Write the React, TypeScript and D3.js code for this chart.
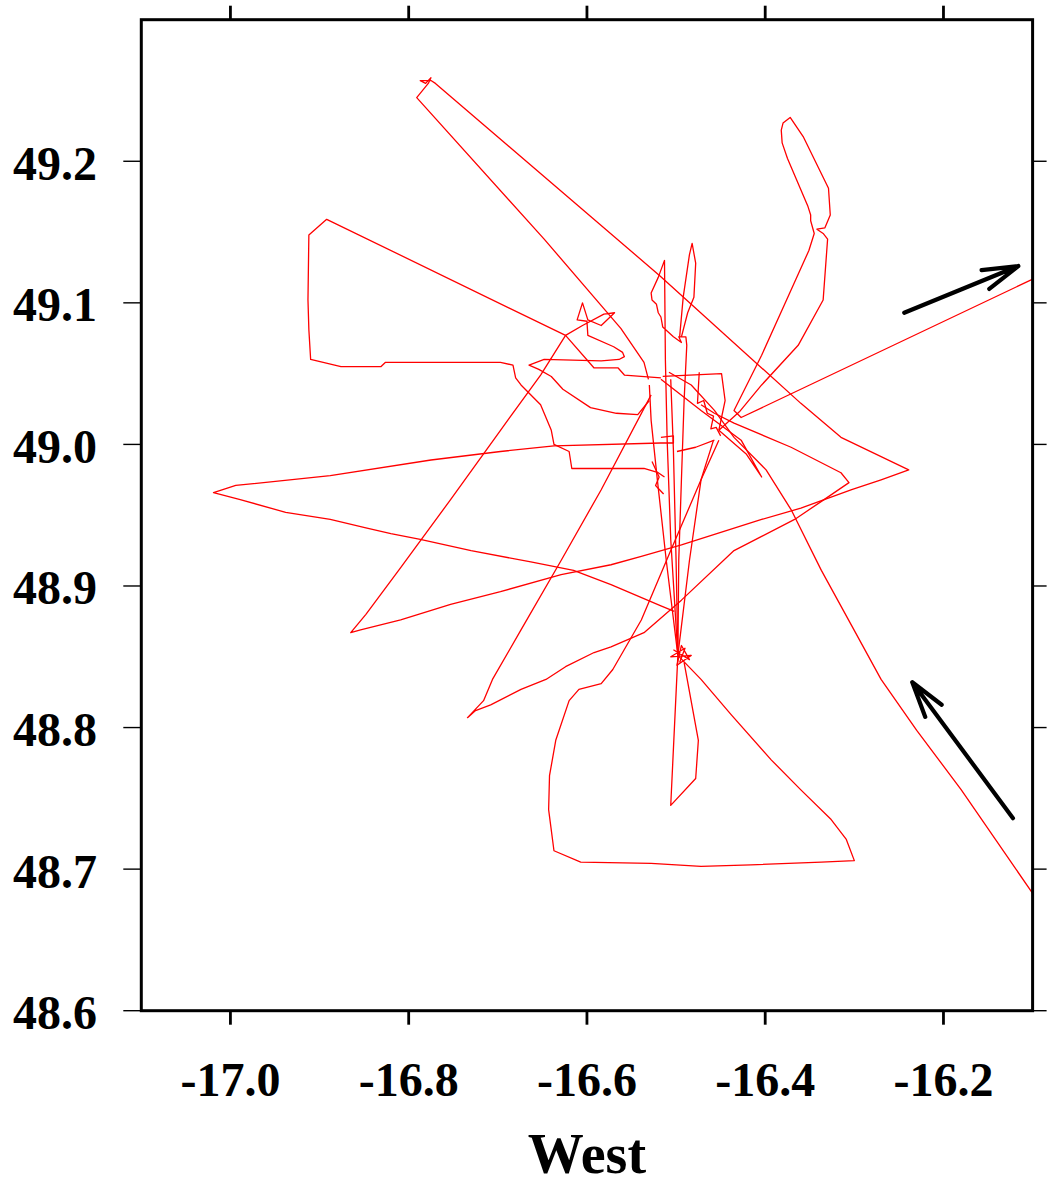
import React from "react";
import * as d3 from "d3";

type P = [number, number];

const xTicks = [-17.0, -16.8, -16.6, -16.4, -16.2];
const yTicks = [48.6, 48.7, 48.8, 48.9, 49.0, 49.1, 49.2];
const xLabel = "West";

const trackEastLoop: P[] = [
  [-16.099, 49.117], [-16.427, 49.019], [-16.435, 49.024], [-16.404, 49.063], [-16.371, 49.109],
  [-16.351, 49.137], [-16.345, 49.149], [-16.349, 49.158], [-16.349, 49.162], [-16.352, 49.168],
  [-16.375, 49.202], [-16.381, 49.213], [-16.382, 49.222], [-16.380, 49.227], [-16.372, 49.231],
  [-16.357, 49.217], [-16.329, 49.181], [-16.327, 49.162], [-16.333, 49.153], [-16.342, 49.152],
  [-16.335, 49.149], [-16.330, 49.145], [-16.335, 49.102], [-16.363, 49.070], [-16.404, 49.042],
  [-16.429, 49.023], [-16.452, 49.010],
];

const trackWedge: P[] = [
  [-16.531, 49.046], [-16.536, 49.058], [-16.562, 49.082], [-16.648, 49.145], [-16.791, 49.245],
  [-16.778, 49.255], [-16.775, 49.259], [-16.781, 49.255], [-16.787, 49.257], [-16.775, 49.257],
  [-16.770, 49.255], [-16.518, 49.119], [-16.360, 49.029], [-16.315, 49.005], [-16.239, 48.982],
  [-16.270, 48.975], [-16.303, 48.968], [-16.360, 48.955], [-16.404, 48.947], [-16.449, 48.938],
  [-16.494, 48.929], [-16.539, 48.921], [-16.573, 48.915], [-16.629, 48.908], [-16.697, 48.896],
  [-16.753, 48.887], [-16.809, 48.876], [-16.854, 48.869], [-16.865, 48.867], [-16.848, 48.880],
  [-16.809, 48.913], [-16.753, 48.961], [-16.697, 49.010], [-16.652, 49.049], [-16.624, 49.077],
  [-16.605, 49.084], [-16.581, 49.092], [-16.569, 49.093], [-16.584, 49.084], [-16.599, 49.088],
  [-16.605, 49.100], [-16.611, 49.088], [-16.600, 49.087], [-16.599, 49.077], [-16.570, 49.069],
  [-16.560, 49.065], [-16.558, 49.062], [-16.564, 49.060], [-16.584, 49.059], [-16.648, 49.060],
  [-16.665, 49.056], [-16.654, 49.053], [-16.640, 49.048], [-16.627, 49.039], [-16.596, 49.026],
  [-16.567, 49.022], [-16.543, 49.021], [-16.530, 49.031],
];

const trackBox: P[] = [
  [-16.517, 49.047], [-16.558, 49.049], [-16.565, 49.054], [-16.592, 49.054], [-16.624, 49.077],
  [-16.892, 49.159], [-16.912, 49.148], [-16.913, 49.102], [-16.912, 49.081], [-16.910, 49.060],
  [-16.876, 49.055], [-16.831, 49.055], [-16.826, 49.058], [-16.697, 49.058], [-16.683, 49.056],
  [-16.680, 49.047], [-16.674, 49.042], [-16.652, 49.028], [-16.640, 49.010], [-16.637, 49.000],
  [-16.620, 48.995], [-16.617, 48.983], [-16.536, 48.983], [-16.520, 48.980], [-16.513, 48.977],
];

const trackWest: P[] = [
  [-16.517, 49.005], [-16.503, 49.006], [-16.503, 49.001], [-16.517, 49.001], [-16.637, 48.999],
  [-16.697, 48.995], [-16.775, 48.989], [-16.888, 48.978], [-16.994, 48.971], [-17.019, 48.966],
  [-16.989, 48.961], [-16.938, 48.952], [-16.888, 48.947], [-16.848, 48.941], [-16.820, 48.937],
  [-16.787, 48.933], [-16.730, 48.925], [-16.663, 48.917], [-16.615, 48.911], [-16.573, 48.901],
  [-16.517, 48.886], [-16.502, 48.882],
];

const trackSouthWest: P[] = [
  [-16.528, 49.035], [-16.584, 48.968], [-16.629, 48.918], [-16.674, 48.869], [-16.706, 48.834],
  [-16.716, 48.819], [-16.734, 48.807], [-16.725, 48.812], [-16.708, 48.816], [-16.674, 48.827],
  [-16.646, 48.834], [-16.624, 48.843], [-16.592, 48.853], [-16.573, 48.857], [-16.536, 48.867],
  [-16.494, 48.890], [-16.435, 48.925], [-16.404, 48.935], [-16.367, 48.947], [-16.334, 48.961],
  [-16.306, 48.973], [-16.315, 48.980], [-16.371, 48.998], [-16.435, 49.015], [-16.457, 49.022],
  [-16.472, 49.028],
];

const trackSouthLoop: P[] = [
  [-16.498, 48.851], [-16.472, 48.834], [-16.438, 48.809], [-16.393, 48.777], [-16.360, 48.756],
  [-16.326, 48.735], [-16.309, 48.721], [-16.300, 48.706], [-16.337, 48.705], [-16.416, 48.703],
  [-16.472, 48.702], [-16.528, 48.704], [-16.607, 48.705], [-16.637, 48.713], [-16.643, 48.742],
  [-16.642, 48.766], [-16.635, 48.791], [-16.620, 48.819], [-16.609, 48.827], [-16.584, 48.831],
  [-16.571, 48.841], [-16.539, 48.876], [-16.506, 48.925], [-16.472, 48.975], [-16.452, 49.003],
];

const trackSouthSpike: P[] = [
  [-16.491, 48.846], [-16.475, 48.791], [-16.478, 48.764], [-16.506, 48.745], [-16.498, 48.851],
];

const trackSouthEast: P[] = [
  [-16.099, 48.682], [-16.180, 48.756], [-16.230, 48.798], [-16.270, 48.834], [-16.303, 48.872],
  [-16.337, 48.911], [-16.371, 48.954], [-16.399, 48.982], [-16.435, 49.005], [-16.457, 49.024],
  [-16.483, 49.042], [-16.508, 49.051],
];

const trackTip: P[] = [
  [-16.517, 49.046], [-16.472, 49.024], [-16.427, 49.003], [-16.404, 48.977], [-16.421, 48.993],
  [-16.452, 49.010],
];

const trackCentre1: P[] = [
  [-16.498, 48.851], [-16.511, 48.918], [-16.521, 48.975], [-16.528, 49.017], [-16.530, 49.042],
];

const trackCentre2: P[] = [
  [-16.498, 48.851], [-16.506, 48.933], [-16.510, 49.003], [-16.512, 49.060], [-16.513, 49.130],
  [-16.520, 49.118], [-16.528, 49.107], [-16.527, 49.102], [-16.522, 49.099], [-16.520, 49.093],
  [-16.517, 49.090], [-16.515, 49.083], [-16.503, 49.076], [-16.494, 49.072], [-16.497, 49.076],
  [-16.489, 49.076], [-16.488, 49.070], [-16.491, 49.031], [-16.494, 48.975], [-16.497, 48.918],
  [-16.498, 48.851],
];

const trackCentre3: P[] = [
  [-16.496, 49.076], [-16.492, 49.104], [-16.485, 49.134], [-16.482, 49.142], [-16.478, 49.128],
  [-16.480, 49.104], [-16.487, 49.093], [-16.494, 49.076],
];

const trackCentre4: P[] = [
  [-16.498, 48.851], [-16.500, 48.918], [-16.503, 48.996], [-16.506, 49.046],
];

const trackCentre5: P[] = [
  [-16.498, 48.851], [-16.485, 48.918], [-16.472, 48.975], [-16.458, 49.003],
];

const trackStar: P[] = [
  [-16.503, 48.855], [-16.485, 48.848], [-16.494, 48.858], [-16.499, 48.844], [-16.483, 48.851],
  [-16.506, 48.850], [-16.490, 48.856], [-16.496, 48.846],
];

const trackCentre6: P[] = [
  [-16.515, 49.048], [-16.449, 49.050], [-16.445, 49.031], [-16.452, 49.010],
];

const trackCentre7: P[] = [
  [-16.499, 48.995], [-16.478, 48.998], [-16.457, 49.003],
];

const trackCentre8: P[] = [
  [-16.474, 49.051], [-16.476, 49.029], [-16.469, 49.031], [-16.465, 49.022], [-16.458, 49.020],
  [-16.461, 49.011], [-16.455, 49.012], [-16.450, 49.006],
];

const trackCentre9: P[] = [
  [-16.527, 48.988], [-16.519, 48.977], [-16.523, 48.971], [-16.514, 48.965],
];

const tracks: P[][] = [
  trackEastLoop, trackWedge, trackBox, trackWest, trackSouthWest, trackSouthLoop,
  trackSouthSpike, trackSouthEast, trackTip, trackCentre1, trackCentre2, trackCentre3,
  trackCentre4, trackCentre5, trackStar, trackCentre6, trackCentre7, trackCentre8, trackCentre9,
];

// arrows: [tail, tip]
const arrowNE: P[] = [[-16.244, 49.093], [-16.116, 49.126]];
const arrowNW: P[] = [[-16.122, 48.736], [-16.235, 48.832]];
const arrows = [arrowNE, arrowNW];

const W = 1047;
const H = 1186;
const L = 141.3, R = 1032.6, T = 19.7, B = 1010.7;
const FONT = "'Liberation Serif', 'Times New Roman', Times, serif";

export default function App() {
  const x = d3.scaleLinear().domain([-17.1, -16.1]).range([L, R]);
  const y = d3.scaleLinear().domain([48.6, 49.3]).range([B, T]);
  const line = d3.line<P>().x((d) => x(d[0])).y((d) => y(d[1]));

  const arrowPaths = arrows.map((a) => {
    const [t0, t1] = a;
    const x0 = x(t0[0]), y0 = y(t0[1]), x1 = x(t1[0]), y1 = y(t1[1]);
    const ang = Math.atan2(y0 - y1, x0 - x1);
    const len = 37, half = (16 * Math.PI) / 180;
    const b1 = [x1 + len * Math.cos(ang + half), y1 + len * Math.sin(ang + half)];
    const b2 = [x1 + len * Math.cos(ang - half), y1 + len * Math.sin(ang - half)];
    return `M${x0},${y0}L${x1},${y1}M${b1[0]},${b1[1]}L${x1},${y1}L${b2[0]},${b2[1]}`;
  });

  return (
    <svg
      width={W}
      height={H}
      style={{ position: "absolute", left: 0, top: 0, background: "#fff" }}
    >
      <defs>
        <clipPath id="plotClip">
          <rect x={L} y={T} width={R - L} height={B - T} />
        </clipPath>
      </defs>
      <rect x={0} y={0} width={W} height={H} fill="#fff" />
      <g clipPath="url(#plotClip)">
        {tracks.map((t, i) => (
          <path key={i} d={line(t) || ""} fill="none" stroke="#ff0000" strokeWidth={1.3} strokeLinejoin="round" />
        ))}
      </g>
      {arrowPaths.map((d, i) => (
        <path key={i} d={d} fill="none" stroke="#000" strokeWidth={4.2} strokeLinecap="round" strokeLinejoin="round" />
      ))}
      <rect x={L} y={T} width={R - L} height={B - T} fill="none" stroke="#000" strokeWidth={3} />
      {xTicks.map((t) => (
        <g key={t}>
          <line x1={x(t)} x2={x(t)} y1={T} y2={T - 14} stroke="#000" strokeWidth={2.8} />
          <line x1={x(t)} x2={x(t)} y1={B} y2={B + 14} stroke="#000" strokeWidth={2.8} />
          <text
            x={x(t)}
            y={1095.5}
            textAnchor="middle"
            fontFamily={FONT}
            fontWeight="bold"
            fontSize={48}
          >
            {t.toFixed(1)}
          </text>
        </g>
      ))}
      {yTicks.map((t) => (
        <g key={t}>
          <line x1={L} x2={L - 18} y1={y(t)} y2={y(t)} stroke="#000" strokeWidth={1.4} />
          <line x1={R} x2={R + 14} y1={y(t)} y2={y(t)} stroke="#000" strokeWidth={1.4} />
          <text
            x={97}
            y={y(t) + 18.5}
            textAnchor="end"
            fontFamily={FONT}
            fontWeight="bold"
            fontSize={48}
          >
            {t.toFixed(1)}
          </text>
        </g>
      ))}
      <text
        x={(L + R) / 2}
        y={1173}
        textAnchor="middle"
        fontFamily={FONT}
        fontWeight="bold"
        fontSize={56}
      >
        {xLabel}
      </text>
    </svg>
  );
}
